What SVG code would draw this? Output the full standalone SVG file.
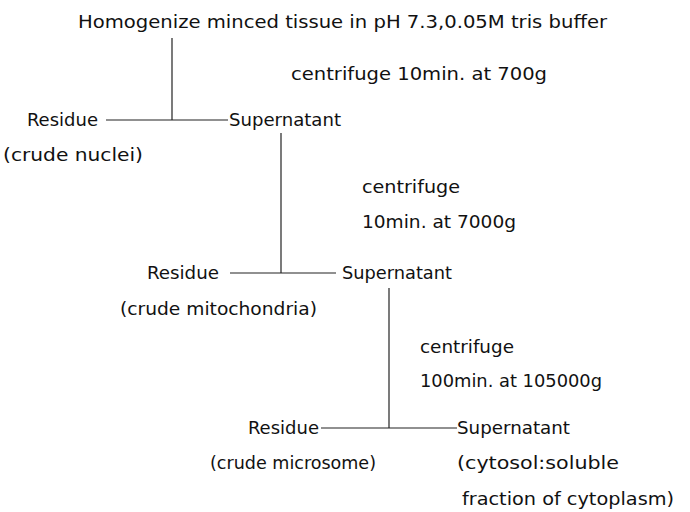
<svg xmlns="http://www.w3.org/2000/svg" width="690" height="512" viewBox="0 0 690 512">
<style>
text{font-family:"DejaVu Sans Condensed","Liberation Sans",sans-serif;font-size:18px;fill:#111}
line{stroke:#222;stroke-width:1.2}
</style>
<rect width="690" height="512" fill="#fff"/>
<g id="connectors">
<line x1="172" y1="38" x2="172" y2="120"/>
<line x1="106" y1="120" x2="228" y2="120"/>
<line x1="281" y1="133" x2="281" y2="273"/>
<line x1="230" y1="273" x2="336" y2="273"/>
<line x1="389" y1="288" x2="389" y2="428"/>
<line x1="321" y1="428" x2="457" y2="428"/>
</g>
<g id="start"><text x="78" y="28" textLength="529" lengthAdjust="spacingAndGlyphs">Homogenize minced tissue in pH 7.3,0.05M tris buffer</text></g>
<g id="step1"><text x="291" y="80" textLength="256" lengthAdjust="spacingAndGlyphs">centrifuge 10min. at 700g</text></g>
<g id="residue1"><text x="27" y="126" textLength="71" lengthAdjust="spacingAndGlyphs">Residue</text><text x="3" y="161" textLength="140" lengthAdjust="spacingAndGlyphs">(crude nuclei)</text></g>
<g id="super1"><text x="229" y="126" textLength="112" lengthAdjust="spacingAndGlyphs">Supernatant</text></g>
<g id="step2"><text x="362" y="193" textLength="98" lengthAdjust="spacingAndGlyphs">centrifuge</text><text x="362" y="228" textLength="154" lengthAdjust="spacingAndGlyphs">10min. at 7000g</text></g>
<g id="residue2"><text x="147" y="279" textLength="72" lengthAdjust="spacingAndGlyphs">Residue</text><text x="120" y="315" textLength="197" lengthAdjust="spacingAndGlyphs">(crude mitochondria)</text></g>
<g id="super2"><text x="342" y="279" textLength="110" lengthAdjust="spacingAndGlyphs">Supernatant</text></g>
<g id="step3"><text x="420" y="353" textLength="94" lengthAdjust="spacingAndGlyphs">centrifuge</text><text x="420" y="387" textLength="182" lengthAdjust="spacingAndGlyphs">100min. at 105000g</text></g>
<g id="residue3"><text x="248" y="434" textLength="71" lengthAdjust="spacingAndGlyphs">Residue</text><text x="210" y="469" textLength="166" lengthAdjust="spacingAndGlyphs">(crude microsome)</text></g>
<g id="super3"><text x="457" y="434" textLength="113" lengthAdjust="spacingAndGlyphs">Supernatant</text><text x="457" y="469" textLength="162" lengthAdjust="spacingAndGlyphs">(cytosol:soluble</text><text x="462" y="505" textLength="212" lengthAdjust="spacingAndGlyphs">fraction of cytoplasm)</text></g>
</svg>
